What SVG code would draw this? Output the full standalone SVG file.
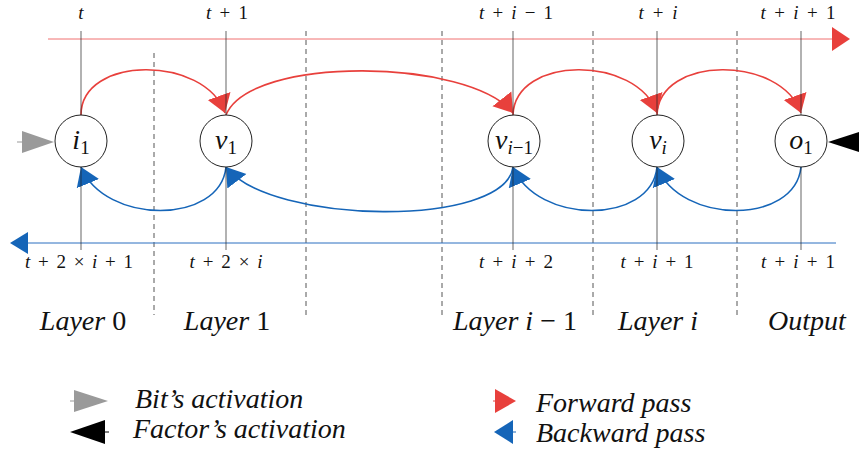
<svg xmlns="http://www.w3.org/2000/svg" width="859" height="453" viewBox="0 0 859 453" font-family="Liberation Serif">
<defs>
<marker id="ar" markerUnits="userSpaceOnUse" markerWidth="20" markerHeight="26" refX="18" refY="12" orient="auto" viewBox="0 0 20 24">
<path d="M0,0 L18,12 L0,24 z" fill="#e8403c"/>
</marker>
<marker id="ab" markerUnits="userSpaceOnUse" markerWidth="20" markerHeight="26" refX="18" refY="12" orient="auto" viewBox="0 0 20 24">
<path d="M0,0 L18,12 L0,24 z" fill="#1565b8"/>
</marker>
</defs>

<g id="grid" stroke="#555" stroke-width="1" stroke-dasharray="5 4" fill="none">
<line x1="154" y1="53" x2="154" y2="315"/>
<line x1="306" y1="31" x2="306" y2="317"/>
<line x1="442" y1="31" x2="442" y2="317"/>
<line x1="593" y1="31" x2="593" y2="317"/>
<line x1="737" y1="31" x2="737" y2="317"/>
</g>

<g id="timelines">
<line x1="48" y1="39" x2="834" y2="39" stroke="#f07070" stroke-width="1"/>
<path d="M832,27 L850,39 L832,51 z" fill="#e8403c"/>
<line x1="26" y1="243" x2="836" y2="243" stroke="#2a6fc0" stroke-width="1"/>
<path d="M28,232 L10,243 L28,254 z" fill="#1565b8"/>
</g>

<g id="connectors" fill="none" stroke-width="1.6">
<path stroke="#e8403c" marker-end="url(#ar)" d="M81,115 C81,55 205,55 225,113"/>
<path stroke="#e8403c" marker-end="url(#ar)" d="M226,115 C250,55 470,58 513,113"/>
<path stroke="#e8403c" marker-end="url(#ar)" d="M513,115 C515,55 637,55 657,113"/>
<path stroke="#e8403c" marker-end="url(#ar)" d="M657,115 C659,55 781,55 801,113"/>
<path stroke="#1565b8" marker-end="url(#ab)" d="M226,167 C220,225 105,225 81,167"/>
<path stroke="#1565b8" marker-end="url(#ab)" d="M513,167 C505,228 270,225 226,167"/>
<path stroke="#1565b8" marker-end="url(#ab)" d="M657,167 C651,225 537,225 513,167"/>
<path stroke="#1565b8" marker-end="url(#ab)" d="M801,167 C795,225 681,225 657,167"/>
<line x1="17" y1="142" x2="24" y2="142" stroke="#999" stroke-width="1"/>
<path d="M22,131 L54,142 L22,153 z" fill="#9a9a9a" stroke="none"/>
<path d="M828,142 L862,131 L862,153 z" fill="#000" stroke="none"/>
</g>

<g id="ticks" stroke="#222" stroke-width="0.7">
<line x1="81" y1="31" x2="81" y2="250"/>
<line x1="226" y1="31" x2="226" y2="250"/>
<line x1="513" y1="31" x2="513" y2="250"/>
<line x1="657" y1="31" x2="657" y2="250"/>
<line x1="801" y1="31" x2="801" y2="250"/>
</g>

<g id="n_i1"><circle cx="81" cy="141" r="26" fill="#fff" stroke="#222"/><text x="81" y="149" text-anchor="middle" fill="#111" font-family="Liberation Serif" font-size="28" font-style="italic">i<tspan dy="5" font-size="19" font-style="normal">1</tspan></text></g>
<g id="n_v1"><circle cx="226" cy="141" r="26" fill="#fff" stroke="#222"/><text x="226" y="149" text-anchor="middle" fill="#111" font-family="Liberation Serif" font-size="28" font-style="italic">v<tspan dy="5" font-size="19" font-style="normal">1</tspan></text></g>
<g id="n_vim1"><circle cx="514" cy="141" r="26" fill="#fff" stroke="#222"/><text x="514" y="149" text-anchor="middle" fill="#111" font-family="Liberation Serif" font-size="28" font-style="italic">v<tspan dy="5" font-size="19">i</tspan><tspan font-size="19" font-style="normal">−1</tspan></text></g>
<g id="n_vi"><circle cx="658" cy="141" r="26" fill="#fff" stroke="#222"/><text x="658" y="149" text-anchor="middle" fill="#111" font-family="Liberation Serif" font-size="28" font-style="italic">v<tspan dy="5" font-size="19">i</tspan></text></g>
<g id="n_o1"><circle cx="801" cy="141" r="26" fill="#fff" stroke="#222"/><text x="801" y="149" text-anchor="middle" fill="#111" font-family="Liberation Serif" font-size="28" font-style="italic">o<tspan dy="5" font-size="19" font-style="normal">1</tspan></text></g>

<g id="toplabels" fill="#111" text-anchor="middle">
<text x="81" y="19" font-family="Liberation Serif" font-size="19" font-style="italic">t</text>
<text x="227" y="19" textLength="42" lengthAdjust="spacing" font-family="Liberation Serif" font-size="19"><tspan font-style="italic">t</tspan> + 1</text>
<text x="516" y="19" textLength="74" lengthAdjust="spacing" font-family="Liberation Serif" font-size="19"><tspan font-style="italic">t</tspan> + <tspan font-style="italic">i</tspan> − 1</text>
<text x="658" y="19" textLength="39" lengthAdjust="spacing" font-family="Liberation Serif" font-size="19"><tspan font-style="italic">t</tspan> + <tspan font-style="italic">i</tspan></text>
<text x="798" y="19" textLength="75" lengthAdjust="spacing" font-family="Liberation Serif" font-size="19"><tspan font-style="italic">t</tspan> + <tspan font-style="italic">i</tspan> + 1</text>
</g>

<g id="bottomlabels" fill="#111" text-anchor="middle">
<text x="79" y="268" textLength="108" lengthAdjust="spacing" font-family="Liberation Serif" font-size="19"><tspan font-style="italic">t</tspan> + 2 × <tspan font-style="italic">i</tspan> + 1</text>
<text x="226" y="268" textLength="73" lengthAdjust="spacing" font-family="Liberation Serif" font-size="19"><tspan font-style="italic">t</tspan> + 2 × <tspan font-style="italic">i</tspan></text>
<text x="516" y="268" textLength="74" lengthAdjust="spacing" font-family="Liberation Serif" font-size="19"><tspan font-style="italic">t</tspan> + <tspan font-style="italic">i</tspan> + 2</text>
<text x="657" y="268" textLength="73" lengthAdjust="spacing" font-family="Liberation Serif" font-size="19"><tspan font-style="italic">t</tspan> + <tspan font-style="italic">i</tspan> + 1</text>
<text x="798" y="268" textLength="74" lengthAdjust="spacing" font-family="Liberation Serif" font-size="19"><tspan font-style="italic">t</tspan> + <tspan font-style="italic">i</tspan> + 1</text>
</g>

<g id="layers" fill="#111" text-anchor="middle">
<text x="83" y="330" font-family="Liberation Serif" font-size="28" font-style="italic">Layer <tspan font-style="normal">0</tspan></text>
<text x="227" y="330" font-family="Liberation Serif" font-size="28" font-style="italic">Layer <tspan font-style="normal">1</tspan></text>
<text x="515" y="330" font-family="Liberation Serif" font-size="28" font-style="italic">Layer i <tspan font-style="normal">− 1</tspan></text>
<text x="658" y="330" font-family="Liberation Serif" font-size="28" font-style="italic">Layer i</text>
<text x="807" y="330" font-family="Liberation Serif" font-size="28" font-style="italic">Output</text>
</g>

<g id="legend" fill="#111">
<line x1="70" y1="401" x2="76" y2="401" stroke="#999" stroke-width="1"/>
<path d="M74,390 L108,401 L74,412 z" fill="#9a9a9a"/>
<text x="135" y="408" font-family="Liberation Serif" font-size="28" font-style="italic">Bit’s activation</text>
<line x1="103" y1="432" x2="109" y2="432" stroke="#000" stroke-width="1"/>
<path d="M105,420 L70,432 L105,444 z" fill="#000"/>
<text x="133" y="438" font-family="Liberation Serif" font-size="28" font-style="italic">Factor’s activation</text>
<line x1="493" y1="401" x2="497" y2="401" stroke="#e8403c" stroke-width="1"/>
<path d="M495,389 L516,401 L495,413 z" fill="#e8403c"/>
<text x="536" y="412" font-family="Liberation Serif" font-size="28" font-style="italic">Forward pass</text>
<line x1="511" y1="432" x2="516" y2="432" stroke="#1565b8" stroke-width="1"/>
<path d="M513,420 L494,432 L513,444 z" fill="#1565b8"/>
<text x="536" y="442" font-family="Liberation Serif" font-size="28" font-style="italic">Backward pass</text>
</g>
</svg>
